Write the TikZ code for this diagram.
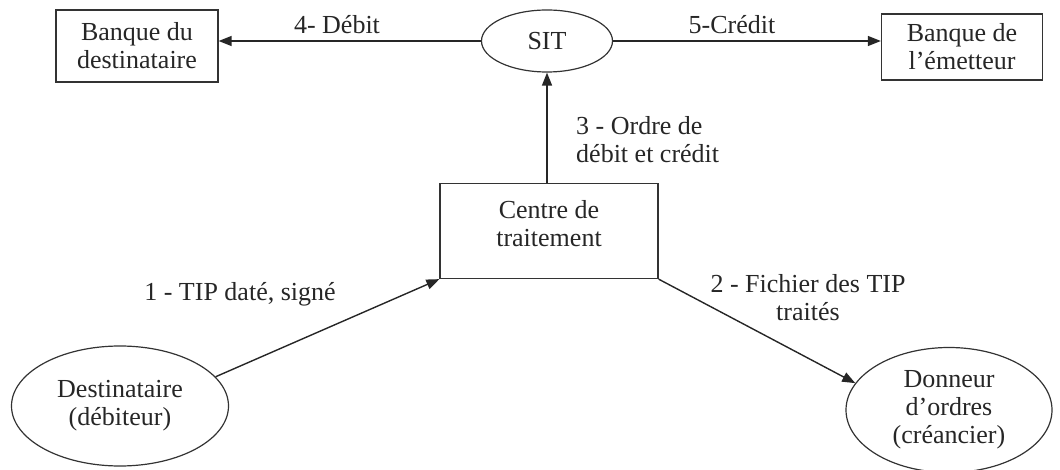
\documentclass[tikz,border=0pt]{standalone}
\usepackage{fontspec}
\setmainfont{Liberation Serif}
\usetikzlibrary{arrows.meta,shapes.geometric}
\begin{document}
\begin{tikzpicture}[x=1pt,y=-1pt,
  every node/.style={font=\fontsize{26}{28}\selectfont, text=black!85},
  boxnode/.style={draw=black!80, line width=1.3pt, rectangle, align=center, inner sep=0pt},
  ellnode/.style={draw=black!80, line width=1.2pt, ellipse, align=center, inner sep=0pt},
  flow/.style={draw=black!85, line width=1.4pt, -{Triangle[length=13pt,width=10pt]}},
  lbl/.style={align=center, inner sep=0pt}]
\useasboundingbox (0,0) rectangle (1060,470);
\node[boxnode, minimum width=162, minimum height=72] (bdest) at (137,46) {Banque du\\destinataire};
\node[ellnode, minimum width=131, minimum height=62] (sit) at (547,41) {SIT};
\node[boxnode, minimum width=161, minimum height=66] (bemet) at (962,47) {Banque de\\l’émetteur};
\node[boxnode, minimum width=218, minimum height=95] (centre) at (549,231) {};
\node[lbl] (centretxt) at (549,224) {Centre de\\traitement};
\node[ellnode, minimum width=217, minimum height=120] (dest) at (120,406) {Destinataire\\(débiteur)};
\node[ellnode, minimum width=206, minimum height=125] (donn) at (949,410) {Donneur\\d’ordres\\(créancier)};

\draw[flow] (sit.west) -- (sit.west -| bdest.east);
\draw[flow] (sit.east) -- (sit.east -| bemet.west);
\draw[flow] (centre.north -| sit.south) -- (sit.south);
\draw[flow] (dest.17) -- (centre.south west);
\draw[flow] (centre.south east) -- (donn.164);

\node[lbl] (l4) at (337,25) {4- Débit};
\node[lbl] (l5) at (732,25) {5-Crédit};
\node[lbl, align=left, anchor=west] (l3) at (576,140) {3 - Ordre de\\débit et crédit};
\node[lbl] (l1) at (240,294) {1 - TIP daté, signé};
\node[lbl] (l2) at (808,298) {2 - Fichier des TIP\\traités};
\end{tikzpicture}
\end{document}
